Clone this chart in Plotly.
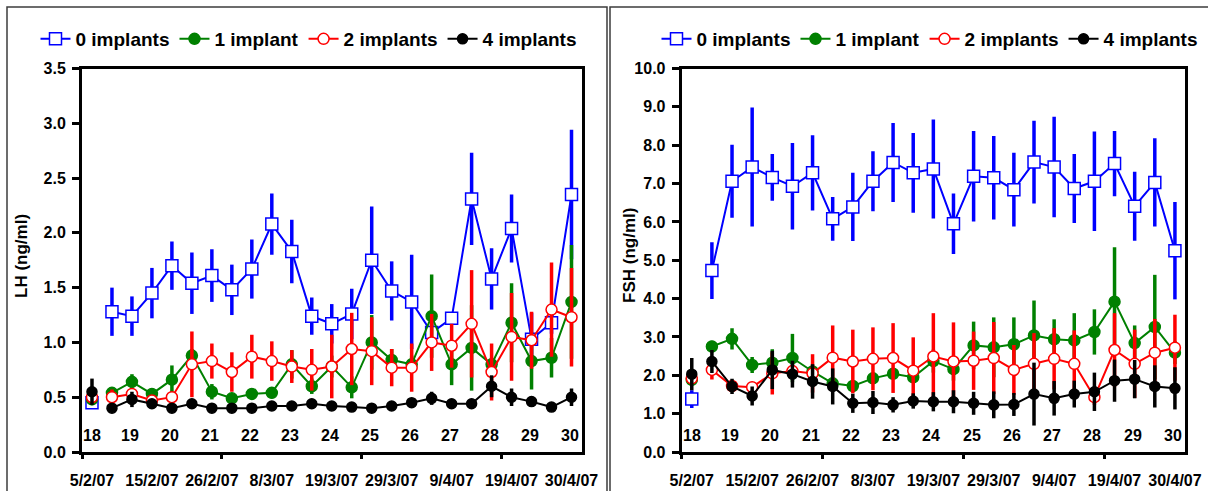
import plotly.graph_objects as go

# Sampling occasions (twice weekly), 5 Feb to 30 Apr 2007
n_samples = 25
date_labels = ["5/2/07", "15/2/07", "26/2/07", "8/3/07", "19/3/07",
               "29/3/07", "9/4/07", "19/4/07", "30/4/07"]
weeks = [18, 19, 20, 21, 22, 23, 24, 25, 26, 27, 28, 29, 30]
groups = ["0 implants", "1 implant", "2 implants", "4 implants"]

# LH (ng/ml): means and error (SEM) per sampling occasion
lh_0 = [0.45, 1.28, 1.24, 1.45, 1.70, 1.54, 1.61, 1.48, 1.67, 2.08, 1.83, 1.24, 1.17,
        1.26, 1.75, 1.47, 1.37, 1.09, 1.22, 2.31, 1.58, 2.04, 1.03, 1.18, 2.35]
lh_0_err = [0.04, 0.22, 0.18, 0.23, 0.22, 0.28, 0.24, 0.23, 0.27, 0.28, 0.29, 0.17, 0.18,
            0.23, 0.49, 0.27, 0.43, 0.10, 0.05, 0.42, 0.28, 0.31, 0.24, 0.10, 0.59]
lh_1 = [0.48, 0.54, 0.64, 0.53, 0.66, 0.88, 0.55, 0.49, 0.53, 0.54, 0.80, 0.60, 0.78,
        0.59, 1.00, 0.84, 0.80, 1.24, 0.80, 0.95, 0.80, 1.18, 0.83, 0.86, 1.37]
lh_1_err = [0.03, 0.05, 0.07, 0.05, 0.13, 0.06, 0.07, 0.03, 0.05, 0.05, 0.13, 0.07, 0.10,
            0.10, 0.25, 0.10, 0.08, 0.38, 0.19, 0.39, 0.06, 0.36, 0.26, 0.18, 0.52]
lh_2 = [0.50, 0.50, 0.53, 0.47, 0.50, 0.80, 0.83, 0.73, 0.87, 0.83, 0.78, 0.75, 0.78,
        0.94, 0.92, 0.77, 0.77, 1.00, 0.97, 1.17, 0.73, 1.05, 1.02, 1.30, 1.23]
lh_2_err = [0.03, 0.07, 0.05, 0.03, 0.03, 0.30, 0.16, 0.18, 0.20, 0.18, 0.15, 0.19, 0.29,
            0.33, 0.31, 0.17, 0.22, 0.26, 0.20, 0.49, 0.26, 0.40, 0.26, 0.43, 0.45]
lh_4 = [0.55, 0.40, 0.48, 0.44, 0.40, 0.44, 0.40, 0.40, 0.40, 0.42, 0.42, 0.44, 0.42,
        0.41, 0.40, 0.42, 0.45, 0.49, 0.44, 0.44, 0.60, 0.50, 0.46, 0.41, 0.50]
lh_4_err = [0.12, 0.02, 0.07, 0.03, 0.02, 0.03, 0.02, 0.02, 0.02, 0.02, 0.02, 0.02, 0.02,
            0.02, 0.02, 0.02, 0.03, 0.06, 0.03, 0.03, 0.10, 0.08, 0.03, 0.02, 0.08]

# FSH (ng/ml): means and error (SEM) per sampling occasion
fsh_0 = [1.38, 4.73, 7.06, 7.43, 7.16, 6.93, 7.28, 6.08, 6.39, 7.06, 7.55, 7.28, 7.38,
         5.95, 7.19, 7.15, 6.84, 7.56, 7.43, 6.87, 7.06, 7.52, 6.41, 7.03, 5.25]
fsh_0_err = [0.23, 0.74, 0.95, 1.55, 0.61, 1.13, 0.98, 0.57, 0.89, 0.78, 1.03, 1.04, 1.29,
             0.79, 1.18, 1.09, 0.96, 1.08, 1.31, 0.90, 1.30, 0.85, 0.90, 1.15, 1.27]
fsh_1 = [1.88, 2.75, 2.95, 2.27, 2.33, 2.45, 2.10, 1.79, 1.72, 1.92, 2.04, 1.95, 2.37,
         2.16, 2.78, 2.73, 2.81, 3.04, 2.94, 2.91, 3.13, 3.92, 2.84, 3.26, 2.59]
fsh_1_err = [0.10, 0.15, 0.28, 0.21, 0.35, 0.63, 0.10, 0.10, 0.10, 0.10, 0.10, 0.10, 0.30,
             0.30, 0.62, 0.78, 0.70, 0.91, 0.52, 0.71, 0.59, 1.42, 0.46, 1.36, 0.30]
fsh_2 = [1.92, 2.14, 1.72, 1.69, 2.05, 2.11, 2.05, 2.46, 2.36, 2.43, 2.45, 2.12, 2.49,
         2.36, 2.38, 2.45, 2.14, 2.30, 2.43, 2.30, 1.43, 2.66, 2.30, 2.59, 2.72]
fsh_2_err = [0.10, 0.25, 0.05, 0.10, 0.55, 0.10, 0.50, 0.84, 0.83, 0.82, 0.91, 0.87, 1.13,
             1.02, 0.76, 0.94, 0.65, 0.80, 0.80, 0.87, 0.20, 0.96, 0.89, 0.88, 0.86]
fsh_4 = [2.03, 2.36, 1.71, 1.46, 2.14, 2.03, 1.84, 1.71, 1.27, 1.29, 1.23, 1.33, 1.31,
         1.31, 1.27, 1.23, 1.24, 1.51, 1.40, 1.51, 1.57, 1.86, 1.90, 1.71, 1.66]
fsh_4_err = [0.42, 0.30, 0.20, 0.25, 0.50, 0.35, 0.45, 0.47, 0.25, 0.30, 0.20, 0.20, 0.25,
             0.30, 0.30, 0.35, 0.30, 0.82, 0.45, 0.35, 0.50, 0.55, 0.50, 0.55, 0.55]

FONT = "Liberation Sans, Arial, sans-serif"
colors = ["#0000FF", "#008000", "#FF0000", "#000000"]
symbols = ["square", "circle", "circle", "circle"]
fills = ["#FFFFFF", "#008000", "#FFFFFF", "#000000"]
msizes = [12, 11, 11, 10]

x_all = list(range(n_samples))

fig = go.Figure()


def add_panel(series, errors, xa, ya, legend_name):
    for name, vals, errs, col, sym, fill, ms in zip(groups, series, errors, colors,
                                                     symbols, fills, msizes):
        marker = dict(symbol=sym, size=ms, color=fill, line=dict(color=col, width=1.5))
        err_style = dict(type="data", thickness=3.5, width=0, color=col)
        # pre-treatment sample stands alone (not joined to the series)
        fig.add_trace(go.Scatter(
            x=x_all[:1], y=vals[:1], mode="markers", marker=marker,
            error_y=dict(array=errs[:1], **err_style),
            xaxis=xa, yaxis=ya, showlegend=False, legend=legend_name, hoverinfo="skip"))
        fig.add_trace(go.Scatter(
            x=x_all[1:], y=vals[1:], mode="lines+markers", name="<b>" + name + "</b>",
            line=dict(color=col, width=2), marker=marker,
            error_y=dict(array=errs[1:], **err_style),
            xaxis=xa, yaxis=ya, legend=legend_name))


add_panel([lh_0, lh_1, lh_2, lh_4], [lh_0_err, lh_1_err, lh_2_err, lh_4_err],
          "x", "y", "legend")
add_panel([fsh_0, fsh_1, fsh_2, fsh_4], [fsh_0_err, fsh_1_err, fsh_2_err, fsh_4_err],
          "x2", "y2", "legend2")

# empty traces so the overlay tick axes are rendered
for xa, ya in (("x3", "y"), ("x4", "y2")):
    fig.add_trace(go.Scatter(x=[None], y=[None], xaxis=xa, yaxis=ya,
                             showlegend=False, hoverinfo="skip"))

W, H = 1208, 491
dom_left = [82 / W, 581.5 / W]
dom_right = [681.7 / W, 1185 / W]
dom_y = [1 - 452 / H, 1 - 68.5 / H]

tick_font = dict(family=FONT, size=16, color="black")
label_vals = list(range(0, n_samples, 3))
week_x = [0.0] + [2 * (w - 18) - 0.1 for w in weeks[1:]]

xcommon = dict(range=[-0.5, n_samples - 0.5], showgrid=False, zeroline=False,
               showline=True, linewidth=3, linecolor="black", mirror=True,
               tickmode="array", tickvals=label_vals,
               ticktext=["<b>" + d + "</b>" for d in date_labels],
               ticks="outside", ticklen=12, tickcolor="rgba(0,0,0,0)",
               tickfont=tick_font, automargin=False)
# tick marks every 7 samples, without labels
xticks_only = dict(range=[-0.5, n_samples - 0.5], showgrid=False, zeroline=False,
                   showline=False, tickmode="array", tickvals=[-0.5, 6.5, 13.5, 20.5],
                   ticks="outside", ticklen=6, tickwidth=3, tickcolor="black",
                   showticklabels=False, side="bottom", automargin=False)
ycommon = dict(showgrid=False, zeroline=False, showline=True, linewidth=3,
               linecolor="black", mirror=True, ticks="outside", ticklen=7,
               tickwidth=3, tickcolor="black", tickformat=".1f", tickfont=tick_font,
               tickprefix="<b>", ticksuffix="</b>", ticklabelstandoff=3,
               automargin=False)

legend_style = dict(orientation="h", xanchor="center", yanchor="middle",
                    font=dict(family=FONT, size=19, color="black"),
                    bgcolor="rgba(0,0,0,0)", tracegroupgap=0, itemwidth=30)

fig.update_layout(
    width=W, height=H, margin=dict(l=0, r=0, t=0, b=0, pad=0, autoexpand=False),
    paper_bgcolor="white", plot_bgcolor="white",
    font=dict(family=FONT, color="black"),
    xaxis=dict(domain=dom_left, anchor="y", **xcommon),
    xaxis2=dict(domain=dom_right, anchor="y2", **xcommon),
    xaxis3=dict(overlaying="x", anchor="y", **xticks_only),
    xaxis4=dict(overlaying="x2", anchor="y2", **xticks_only),
    yaxis=dict(domain=dom_y, anchor="x", range=[0, 3.5], dtick=0.5, **ycommon),
    yaxis2=dict(domain=dom_y, anchor="x2", range=[0, 10], dtick=1, **ycommon),
    legend=dict(x=309 / W, y=1 - 39 / H, **legend_style),
    legend2=dict(x=930 / W, y=1 - 39 / H, **legend_style),
    showlegend=True,
)

annotations = []
for xr, yr in (("x", "y domain"), ("x2", "y2 domain")):
    for w, wx in zip(weeks, week_x):
        annotations.append(dict(x=wx, y=0.044, xref=xr, yref=yr, text=f"<b>{w}</b>",
                                showarrow=False, xanchor="center", yanchor="middle",
                                font=dict(family=FONT, size=16, color="black")))
for text, xpix in (("LH (ng/ml)", 22), ("FSH (ng/ml)", 630)):
    annotations.append(dict(x=xpix / W, y=1 - 256 / H, xref="paper", yref="paper",
                            text=f"<b>{text}</b>", textangle=-90, showarrow=False,
                            xanchor="center", yanchor="middle",
                            font=dict(family=FONT, size=17, color="black")))
fig.update_layout(annotations=annotations)

# panel frames
frame = dict(color="#3c3c3c", width=1.5)
fig.update_layout(shapes=[
    dict(type="rect", xref="paper", yref="paper", x0=7 / W, x1=607 / W,
         y0=-0.05, y1=1 - 7 / H, line=frame),
    dict(type="rect", xref="paper", yref="paper", x0=610 / W, x1=1.02,
         y0=-0.05, y1=1 - 7 / H, line=frame),
])

fig.write_html("out.html")
